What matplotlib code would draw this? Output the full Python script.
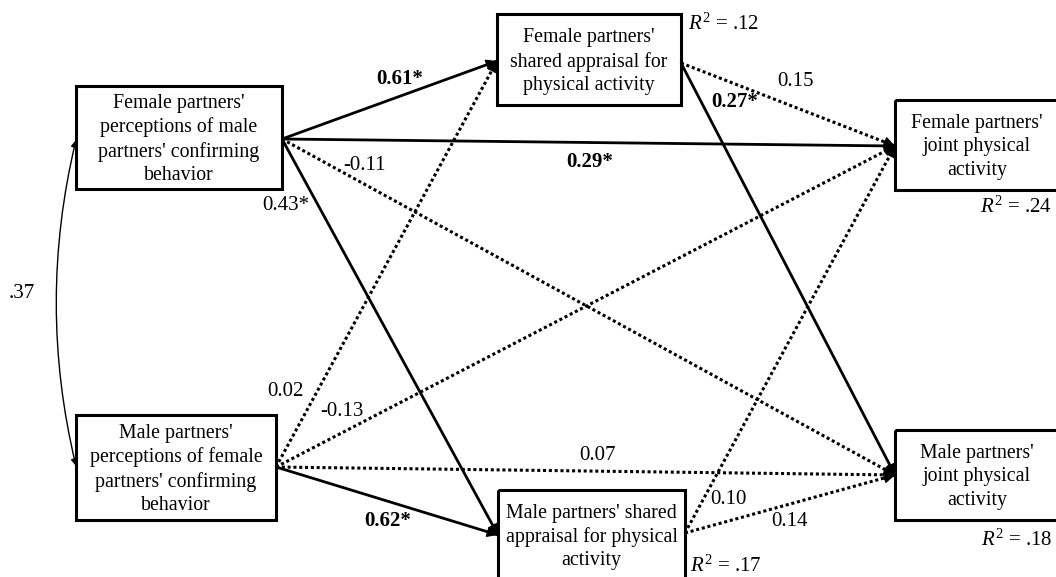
import matplotlib.pyplot as plt
from matplotlib.patches import Rectangle, FancyArrowPatch

plt.rcParams['font.family'] = ['Liberation Serif', 'DejaVu Serif']
plt.rcParams['mathtext.fontset'] = 'custom'
plt.rcParams['mathtext.rm'] = 'Liberation Serif'
plt.rcParams['mathtext.it'] = 'Liberation Serif:italic'

# nodes of the path model
node_ids = ['FP', 'MP', 'FS', 'MS', 'FJ', 'MJ']
node_labels = ["Female partners'\nperceptions of male\npartners' confirming\nbehavior",
               "Male partners'\nperceptions of female\npartners' confirming\nbehavior",
               "Female partners'\nshared appraisal for\nphysical activity",
               "Male partners' shared\nappraisal for physical\nactivity",
               "Female partners'\njoint physical\nactivity",
               "Male partners'\njoint physical\nactivity"]
r2_nodes = ['FS', 'MS', 'FJ', 'MJ']
r2_values = [0.12, 0.17, 0.24, 0.18]
covariance = 0.37

# paths
edge_src = ['FP', 'FP', 'FP', 'FP', 'MP', 'MP', 'MP', 'MP', 'FS', 'FS', 'MS', 'MS']
edge_dst = ['FS', 'FJ', 'MJ', 'MS', 'FS', 'FJ', 'MJ', 'MS', 'FJ', 'MJ', 'FJ', 'MJ']
edge_coef = [0.61, 0.29, -0.11, 0.43, 0.02, -0.13, 0.07, 0.62, 0.15, 0.27, 0.10, 0.14]
edge_sig = [True, True, False, True, False, False, False, True, False, True, False, False]
edge_bold = [True, True, False, False, False, False, False, True, False, True, False, False]

# layout in pixel coordinates (x right, y down)
box = {'FP': (76, 86, 282, 189), 'MP': (76, 415, 276, 520),
       'FS': (497, 14, 681, 105), 'MS': (498, 490, 685, 580),
       'FJ': (895, 100, 1059, 190), 'MJ': (895, 430, 1059, 520)}
out_pt = {'FP': (282, 139), 'MP': (276, 467), 'FS': (681, 63), 'MS': (685, 533)}
in_pt = {'FS': (497, 61), 'MS': (498, 535), 'FJ': (895, 146), 'MJ': (895, 475)}
label_pos = [(400, 79), (590, 162), (364, 165), (286, 205), (285, 391), (342, 411),
             (598, 455), (388, 521), (795, 81), (735, 102), (728, 499), (790, 522)]
r2_pos = {'FS': (688, 24, 'left'), 'MS': (690, 566, 'left'),
          'FJ': (1052, 207, 'right'), 'MJ': (1052, 540, 'right')}

fig = plt.figure(figsize=(10.56, 5.77), dpi=100)
ax = fig.add_axes([0, 0, 1, 1])
ax.set_xlim(0, 1056)
ax.set_ylim(577, 0)
ax.axis('off')

fs = 14.3

for nid, lab in zip(node_ids, node_labels):
    x0, y0, x1, y1 = box[nid]
    ax.add_patch(Rectangle((x0, y0), x1 - x0, y1 - y0, fill=False, lw=2.2,
                           ec='black', zorder=3))
    ax.text((x0 + x1) / 2, (y0 + y1) / 2 + 2, lab, ha='center', va='center',
            fontsize=fs, linespacing=1.3, zorder=4)

for s, d, c, sig, b, (lx, ly) in zip(edge_src, edge_dst, edge_coef, edge_sig,
                                     edge_bold, label_pos):
    x0, y0 = out_pt[s]
    x1, y1 = in_pt[d]
    if sig:
        ax.plot([x0, x1], [y0, y1], color='black', lw=2.0, solid_capstyle='butt')
    else:
        ax.plot([x0, x1], [y0, y1], color='black', lw=2.2, dashes=(1, 0.9))
    # arrow head
    dx, dy = x1 - x0, y1 - y0
    n = (dx ** 2 + dy ** 2) ** 0.5
    ax.annotate('', xy=(x1, y1), xytext=(x1 - dx / n * 9, y1 - dy / n * 9),
                arrowprops=dict(arrowstyle='-|>,head_length=0.6,head_width=0.3',
                                color='black', lw=1.0, shrinkA=0, shrinkB=0,
                                mutation_scale=11))
    txt = f'{c:.2f}' + ('*' if sig else '')
    ax.text(lx, ly, txt, ha='center', va='center', fontsize=15,
            fontweight='bold' if b else 'normal')

for nid, v in zip(r2_nodes, r2_values):
    x, y, ha = r2_pos[nid]
    ax.text(x, y, r'$R^2$' + ' = ' + f'{v:.2f}'.lstrip('0'), ha=ha, va='center',
            fontsize=15)

# covariance between the two predictors
cov = FancyArrowPatch((76, 140), (76, 466), connectionstyle='arc3,rad=0.12',
                      arrowstyle='<|-|>,head_length=4,head_width=2',
                      color='black', lw=1.0, shrinkA=0, shrinkB=0)
ax.add_patch(cov)
ax.text(22, 293, f'{covariance:.2f}'.lstrip('0'), ha='center', va='center',
        fontsize=15)

fig.savefig('out.png', dpi=100)
